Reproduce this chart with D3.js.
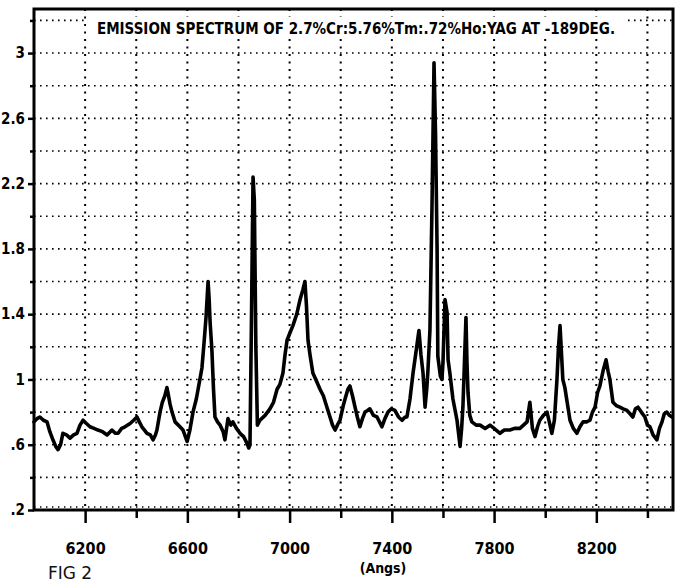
<!DOCTYPE html>
<html>
<head>
<meta charset="utf-8">
<script src="https://cdn.jsdelivr.net/npm/d3@7"></script>
<style>
  body { margin: 0; background: #fff; }
  .lbl { font-family: "Liberation Sans Narrow", "DejaVu Sans Condensed", "DejaVu Sans", sans-serif; font-stretch: condensed; font-weight: bold; }
</style>
</head>
<body>
<div class="canvas"></div>
<script>
// spectrum: wavelength (Angstrom) and relative intensity
const wavelength = [
  6000, 6012, 6023, 6037, 6051, 6062, 6074, 6085, 6094, 6104, 6113, 6127, 6141, 6155, 6168, 6180,
  6192, 6205, 6219, 6235, 6250, 6268, 6286, 6305, 6318, 6329, 6343, 6356, 6376, 6390, 6403, 6412,
  6422, 6442, 6455, 6466, 6475, 6481, 6493, 6502, 6512, 6520, 6524, 6532, 6540, 6552, 6571, 6583,
  6599, 6610, 6622, 6635, 6642, 6649, 6657, 6665, 6673, 6681, 6685, 6689, 6696, 6702, 6708, 6718,
  6728, 6740, 6747, 6759, 6770, 6778, 6792, 6806, 6820, 6833, 6840, 6845, 6851, 6857, 6862, 6868,
  6874, 6884, 6904, 6923, 6937, 6951, 6962, 6974, 6982, 6990, 7000, 7013, 7028, 7041, 7052, 7060,
  7066, 7072, 7080, 7091, 7105, 7119, 7132, 7146, 7158, 7168, 7178, 7190, 7197, 7210, 7217, 7228,
  7236, 7246, 7256, 7265, 7275, 7285, 7295, 7305, 7314, 7328, 7342, 7361, 7373, 7385, 7398, 7412,
  7426, 7440, 7452, 7459, 7471, 7483, 7492, 7506, 7514, 7522, 7530, 7537, 7541, 7549, 7557, 7565,
  7571, 7577, 7580, 7590, 7596, 7600, 7608, 7616, 7620, 7627, 7639, 7655, 7667, 7673, 7678, 7684,
  7690, 7694, 7698, 7705, 7713, 7730, 7745, 7765, 7784, 7800, 7823, 7840, 7862, 7880, 7901, 7915,
  7929, 7940, 7950, 7960, 7970, 7979, 7993, 8007, 8016, 8026, 8036, 8046, 8052, 8058, 8064, 8069,
  8077, 8085, 8097, 8110, 8124, 8136, 8148, 8162, 8175, 8185, 8195, 8205, 8214, 8226, 8238, 8246,
  8253, 8265, 8278, 8292, 8305, 8320, 8332, 8343, 8353, 8363, 8376, 8390, 8400, 8410, 8422, 8437,
  8447, 8457, 8466, 8476, 8486, 8496
]
const intensity = [
  0.74, 0.76, 0.77, 0.75, 0.74, 0.68, 0.63, 0.59, 0.57, 0.60, 0.67, 0.66, 0.64, 0.66, 0.67, 0.72,
  0.75, 0.73, 0.71, 0.70, 0.69, 0.68, 0.66, 0.69, 0.67, 0.67, 0.70, 0.71, 0.73, 0.75, 0.77, 0.74,
  0.71, 0.67, 0.66, 0.63, 0.66, 0.69, 0.80, 0.86, 0.90, 0.95, 0.92, 0.85, 0.80, 0.74, 0.71, 0.69,
  0.62, 0.69, 0.80, 0.88, 0.94, 1.00, 1.07, 1.22, 1.38, 1.60, 1.50, 1.35, 1.18, 0.95, 0.77, 0.74,
  0.72, 0.68, 0.63, 0.76, 0.72, 0.74, 0.70, 0.67, 0.65, 0.61, 0.58, 0.60, 1.40, 2.24, 2.10, 1.20,
  0.72, 0.75, 0.78, 0.82, 0.86, 0.94, 0.97, 1.04, 1.15, 1.24, 1.28, 1.33, 1.40, 1.49, 1.55, 1.60,
  1.45, 1.24, 1.15, 1.04, 0.99, 0.94, 0.90, 0.83, 0.77, 0.72, 0.69, 0.73, 0.75, 0.84, 0.88, 0.94,
  0.96, 0.90, 0.83, 0.77, 0.71, 0.76, 0.80, 0.81, 0.82, 0.78, 0.77, 0.71, 0.76, 0.80, 0.82, 0.81,
  0.77, 0.75, 0.77, 0.77, 0.88, 1.04, 1.14, 1.30, 1.15, 1.04, 0.83, 0.95, 1.05, 1.30, 2.05, 2.94,
  2.50, 1.80, 1.14, 1.02, 1.00, 1.10, 1.49, 1.41, 1.12, 1.04, 0.88, 0.75, 0.59, 0.70, 0.83, 1.10,
  1.38, 1.10, 0.92, 0.78, 0.74, 0.72, 0.72, 0.70, 0.72, 0.70, 0.67, 0.69, 0.69, 0.70, 0.70, 0.72,
  0.74, 0.86, 0.70, 0.65, 0.71, 0.75, 0.78, 0.80, 0.74, 0.67, 0.75, 1.00, 1.20, 1.33, 1.15, 1.00,
  0.95, 0.87, 0.75, 0.70, 0.67, 0.71, 0.74, 0.74, 0.75, 0.80, 0.83, 0.92, 0.96, 1.05, 1.12, 1.05,
  1.00, 0.86, 0.84, 0.83, 0.82, 0.81, 0.79, 0.77, 0.82, 0.83, 0.80, 0.77, 0.72, 0.71, 0.66, 0.63,
  0.70, 0.74, 0.79, 0.80, 0.78, 0.77
]

const majorX = [6200, 6600, 7000, 7400, 7800, 8200]
const minorX = [6400, 6800, 7200, 7600, 8000, 8400]
const majorY = [0.2, 0.6, 1, 1.4, 1.8, 2.2, 2.6, 3]
const minorY = [0.4, 0.8, 1.2, 1.6, 2.0, 2.4, 2.8, 3.2]

const titleText = "EMISSION SPECTRUM OF 2.7%Cr:5.76%Tm:.72%Ho:YAG AT -189DEG."
const xTitle = "(Angs)"
const figText = "FIG 2"

/**
 * Dimension setup
 */
const dims = { width: 679, height: 585 }
const frame = { left: 34, right: 673, top: 9, bottom: 510 }

const svg = d3.select(".canvas")
  .append("svg")
  .attr("width", dims.width)
  .attr("height", dims.height)

svg.append("rect")
  .attr("width", dims.width)
  .attr("height", dims.height)
  .attr("fill", "#fff")

const x = d3.scaleLinear().domain([6000, 8500]).range([frame.left, frame.right])
const y = d3.scaleLinear().domain([0.2, 3.27]).range([frame.bottom, frame.top])

/**
 * Dotted grid
 */
const grid = svg.append("g")

grid.selectAll(".hgrid")
  .data(majorY.concat(minorY).filter(d => d > 0.2 && d < 3.27))
  .enter().append("line")
    .attr("x1", frame.left).attr("x2", frame.right)
    .attr("y1", d => y(d)).attr("y2", d => y(d))
    .attr("stroke", "#000")
    .attr("stroke-width", 1.6)
    .attr("stroke-dasharray", "1.6,4.4")

grid.selectAll(".vgrid")
  .data(majorX.concat(minorX))
  .enter().append("line")
    .attr("x1", d => x(d)).attr("x2", d => x(d))
    .attr("y1", frame.top).attr("y2", frame.bottom)
    .attr("stroke", "#000")
    .attr("stroke-width", 2)
    .attr("stroke-dasharray", "2,5.5")

// bottom row of dots just above the frame
grid.append("line")
  .attr("x1", frame.left).attr("x2", frame.right)
  .attr("y1", y(0.2) - 3).attr("y2", y(0.2) - 3)
  .attr("stroke", "#000")
  .attr("stroke-width", 1.4)
  .attr("stroke-dasharray", "1.4,4.6")

/**
 * Title (white box behind it hides the grid)
 */
svg.append("rect")
  .attr("x", 86).attr("y", 17)
  .attr("width", 540).attr("height", 20)
  .attr("fill", "#fff")

svg.append("text")
  .attr("class", "lbl")
  .attr("x", 356)
  .attr("y", 34)
  .attr("text-anchor", "middle")
  .attr("font-size", 15)
  .text(titleText)

/**
 * Spectrum line
 */
const pts = wavelength.map((w, i) => [w, intensity[i]])
const line = d3.line().x(d => x(d[0])).y(d => y(d[1]))

svg.append("path")
  .datum(pts)
  .attr("d", line)
  .attr("fill", "none")
  .attr("stroke", "#000")
  .attr("stroke-width", 3.6)
  .attr("stroke-linejoin", "round")
  .attr("stroke-linecap", "round")

/**
 * Frame
 */
svg.append("rect")
  .attr("x", frame.left).attr("y", frame.top)
  .attr("width", frame.right - frame.left)
  .attr("height", frame.bottom - frame.top)
  .attr("fill", "none")
  .attr("stroke", "#000")
  .attr("stroke-width", 3)

/**
 * Axes
 */
const fmtY = d => d3.format(".1f")(d).replace(/\.0$/, "").replace(/^0/, "")

const yAxis = svg.append("g")
  .attr("transform", `translate(${frame.left},0)`)
  .call(d3.axisLeft(y).tickValues(majorY).tickSize(6).tickPadding(3).tickFormat(fmtY))
yAxis.select(".domain").remove()
yAxis.selectAll("line").attr("stroke-width", 2.5)
yAxis.selectAll("text").attr("class", "lbl").attr("font-size", 15).attr("fill", "#000")

const yMinor = svg.append("g")
  .attr("transform", `translate(${frame.left},0)`)
  .call(d3.axisLeft(y).tickValues(minorY).tickSize(4).tickFormat(""))
yMinor.select(".domain").remove()
yMinor.selectAll("line").attr("stroke-width", 2.5)

const xAxis = svg.append("g")
  .attr("transform", `translate(0,${frame.bottom})`)
  .call(d3.axisBottom(x).tickValues(majorX).tickSize(13).tickPadding(20).tickFormat(d3.format("d")))
xAxis.select(".domain").remove()
xAxis.selectAll("line").attr("stroke-width", 2.5)
xAxis.selectAll("text").attr("class", "lbl").attr("font-size", 16).attr("fill", "#000")

const xMinor = svg.append("g")
  .attr("transform", `translate(0,${frame.bottom})`)
  .call(d3.axisBottom(x).tickValues(minorX).tickSize(8).tickFormat(""))
xMinor.select(".domain").remove()
xMinor.selectAll("line").attr("stroke-width", 2.5)

svg.append("text")
  .attr("class", "lbl")
  .attr("x", 383).attr("y", 573)
  .attr("text-anchor", "middle")
  .attr("font-size", 14)
  .text(xTitle)

svg.append("text")
  .attr("x", 48).attr("y", 579)
  .attr("font-family", "DejaVu Sans, sans-serif")
  .attr("font-size", 17)
  .attr("fill", "#111")
  .text(figText)
</script>
</body>
</html>
